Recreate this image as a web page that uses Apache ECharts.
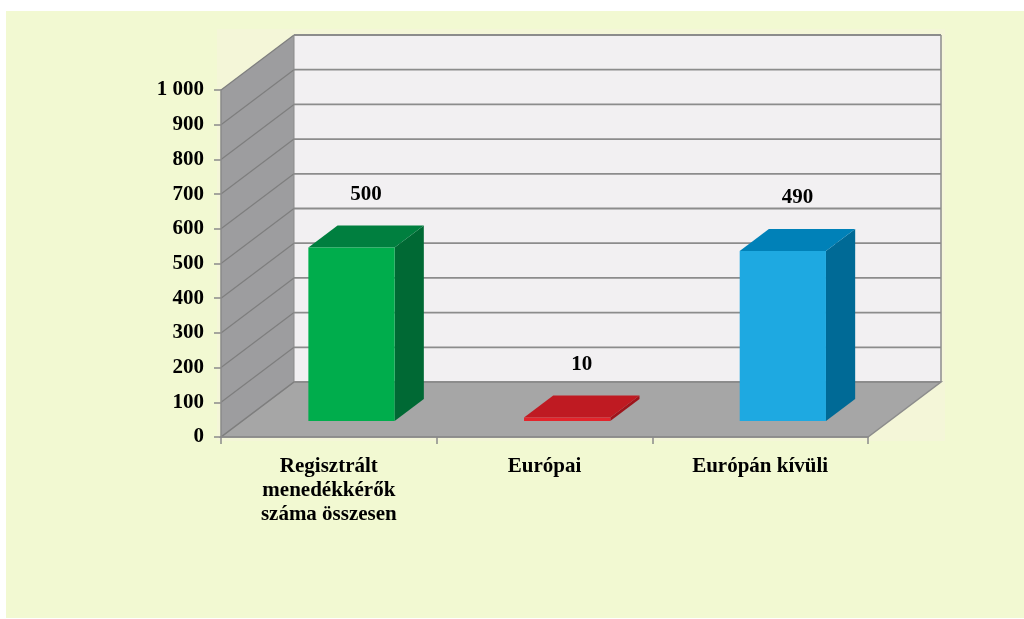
<!DOCTYPE html>
<html>
<head>
<meta charset="utf-8">
<script src="https://cdn.jsdelivr.net/npm/echarts@6/dist/echarts.min.js"></script>
<style>
html,body{margin:0;padding:0;background:#ffffff;}
#wrap{position:absolute;left:6px;top:11px;width:1018px;height:607px;background:#F2F9D2;}
#chart{position:absolute;left:0;top:0;width:1024px;height:619px;}
</style>
</head>
<body>
<div id="wrap"></div>
<div id="chart"></div>
<script>
const categories = ['Regisztrált\nmenedékkérők\nszáma összesen', 'Európai', 'Európán kívüli'];
const values = [500, 10, 490];
const yTickValues = [0, 100, 200, 300, 400, 500, 600, 700, 800, 900, 1000];
const yTickLabels = ['0', '100', '200', '300', '400', '500', '600', '700', '800', '900', '1 000'];

// styling constants
const DX = 73, DY = -55;           // depth offset of the 3D frame (px)
const F0 = 0.29, F1 = 0.69;        // bar depth span (fraction of frame depth)
const BAR_W = 0.40;                // bar width as fraction of band
const palette = [
  {front:'#00AD4C', top:'#007F3F', side:'#006934'},
  {front:'#E3242B', top:'#BF1A22', side:'#9E141B'},
  {front:'#1EA9E1', top:'#0081B8', side:'#006A96'}
];
const FONT = 'Liberation Serif';
const GRID_COLOR = '#8C8C8C';

const chart = echarts.init(document.getElementById('chart'), null, {renderer:'canvas'});

function renderFrame(params, api) {
  const cs = params.coordSys;
  const x0 = cs.x, y0 = cs.y, w = cs.width, h = cs.height;
  const yb = y0 + h;
  const children = [];
  children.push({type:'rect', shape:{x:x0-4, y:y0+DY-6, width:w+DX+8, height:h-DY+10}, style:{fill:'#F4F6D8'}});
  children.push({type:'rect', shape:{x:x0+DX, y:y0+DY, width:w, height:h}, style:{fill:'#F2F0F2'}});
  children.push({type:'polygon', shape:{points:[[x0,y0],[x0+DX,y0+DY],[x0+DX,yb+DY],[x0,yb]]}, style:{fill:'#9D9D9F'}});
  children.push({type:'polygon', shape:{points:[[x0,yb],[x0+DX,yb+DY],[x0+w+DX,yb+DY],[x0+w,yb]]}, style:{fill:'#A6A6A6', stroke:GRID_COLOR, lineWidth:1.5}});
  yTickValues.forEach(function(v){
    const p = api.coord([0, v]);
    const yy = p[1];
    children.push({type:'line', shape:{x1:x0, y1:yy, x2:x0+DX, y2:yy+DY}, style:{stroke:'#7E7E7E', lineWidth:1.2}});
    children.push({type:'line', shape:{x1:x0+DX, y1:yy+DY, x2:x0+w+DX, y2:yy+DY}, style:{stroke:GRID_COLOR, lineWidth:1.8}});
  });
  children.push({type:'line', shape:{x1:x0+w+DX, y1:y0+DY, x2:x0+w+DX, y2:yb+DY}, style:{stroke:GRID_COLOR, lineWidth:1.5}});
  children.push({type:'line', shape:{x1:x0+DX, y1:y0+DY, x2:x0+DX, y2:yb+DY}, style:{stroke:'#8A8A8A', lineWidth:1}});
  return {type:'group', children:children};
}

function renderBar(params, api) {
  const i = api.value(0), v = api.value(1);
  const p0 = api.coord([i, 0]);
  const p1 = api.coord([i, v]);
  const band = api.size([1, 0])[0];
  const w = band * BAR_W;
  const xl = p0[0] - w/2 + F0*DX + 1.5;
  const xr = xl + w;
  const yb = p0[1] + F0*DY;
  const yt = p1[1] + F0*DY;
  const ddx = (F1-F0)*DX, ddy = (F1-F0)*DY;
  const c = palette[params.dataIndex];
  return {type:'group', children:[
    {type:'polygon', shape:{points:[[xr,yt],[xr+ddx,yt+ddy],[xr+ddx,yb+ddy],[xr,yb]]}, style:{fill:c.side}},
    {type:'polygon', shape:{points:[[xl,yt],[xr,yt],[xr+ddx,yt+ddy],[xl+ddx,yt+ddy]]}, style:{fill:c.top}},
    {type:'rect', shape:{x:xl, y:yt, width:w, height:Math.max(yb-yt,0.5)}, style:{fill:c.front}},
    {type:'text', x:xl + w/2 + ddx/2, y:yt + ddy/2 - 42, style:{text:String(v), fill:'#000', font:'bold 21px "' + FONT + '"', align:'center', verticalAlign:'middle'}}
  ]};
}

chart.setOption({
  animation:false,
  backgroundColor:'transparent',
  grid:{left:221, right:156, top:90, bottom:182, containLabel:false},
  xAxis:{
    type:'category', data:categories,
    axisLine:{show:true, lineStyle:{color:'#8A8A8A', width:1.5}},
    axisTick:{show:true, length:7, alignWithLabel:false, lineStyle:{color:'#8A8A8A', width:1.5}},
    axisLabel:{interval:0, margin:18, color:'#000', fontFamily:FONT, fontWeight:'bold', fontSize:21, lineHeight:24},
    splitLine:{show:false}
  },
  yAxis:{
    type:'value', min:0, max:1000, interval:100,
    axisLine:{show:true, lineStyle:{color:'#8A8A8A', width:1.5}},
    axisTick:{show:true, length:7, lineStyle:{color:'#8A8A8A', width:1.5}},
    axisLabel:{margin:17, color:'#000', fontFamily:FONT, fontWeight:'bold', fontSize:21,
      formatter:function(v){ return yTickLabels[Math.round(v/100)]; }},
    splitLine:{show:false}
  },
  series:[
    {type:'custom', renderItem:renderFrame, data:[[0,0]], clip:false, silent:true, z:0},
    {type:'custom', renderItem:renderBar, data:values.map(function(v,i){return [i,v];}), clip:false, silent:true, z:3}
  ]
});
</script>
</body>
</html>
